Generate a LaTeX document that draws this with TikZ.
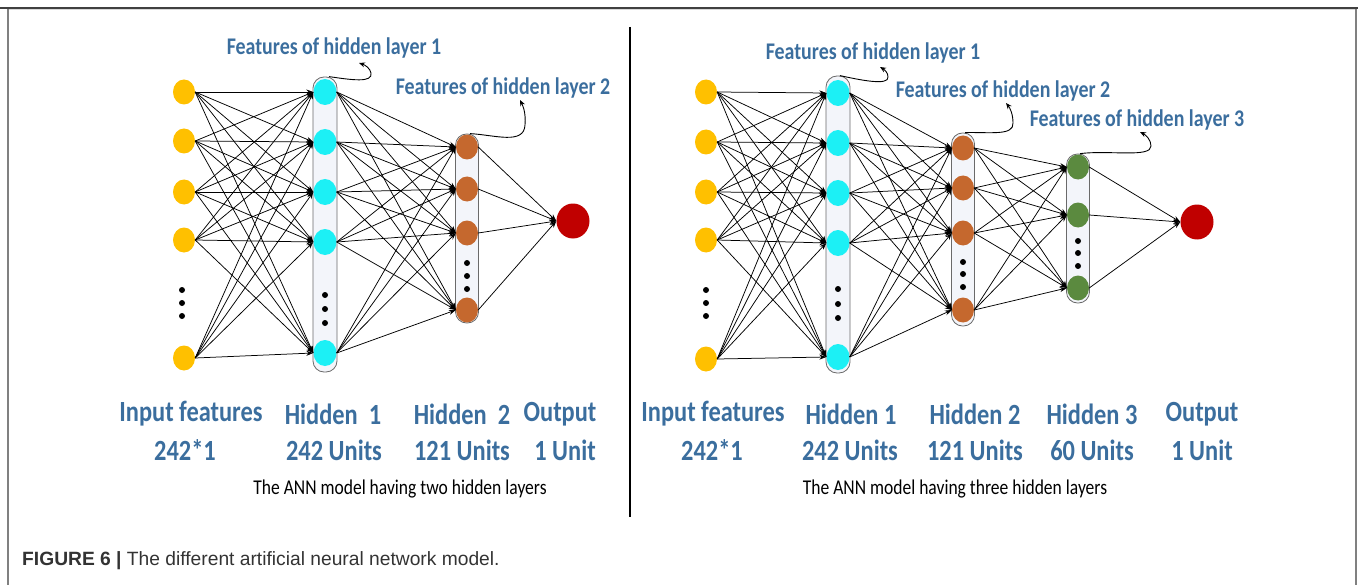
\documentclass[tikz,border=0pt]{standalone}
\usepackage{graphicx}
\usepackage{fontspec}
\setmainfont{Carlito}
\newfontfamily\capfont{Liberation Sans}
\usetikzlibrary{arrows.meta,shapes.geometric}

\definecolor{lblblue}{HTML}{3B6E9E}
\definecolor{inyellow}{HTML}{FFC000}
\definecolor{hcyan}{HTML}{1CF0F5}
\definecolor{hbrown}{HTML}{C5682E}
\definecolor{hgreen}{HTML}{5B8A3F}
\definecolor{outred}{HTML}{C00000}
\definecolor{capfill}{HTML}{F3F5FA}
\definecolor{capdraw}{HTML}{6A6A6A}
\definecolor{captext}{HTML}{333333}

% the figure lettering is a little narrow and tall
\newcommand\tallset[1]{\scalebox{1}[1.2]{#1}}

\tikzset{
  unit/.style={ellipse, inner sep=0pt, minimum width=22bp, minimum height=25bp},
  inunit/.style={unit, fill=inyellow},
  cyanunit/.style={unit, fill=hcyan, minimum width=23bp, minimum height=26bp},
  brownunit/.style={unit, fill=hbrown},
  greenunit/.style={unit, fill=hgreen},
  outunit/.style={unit, fill=outred, minimum width=33bp, minimum height=35bp},
  capsule/.style={draw=capdraw, fill=capfill, line width=0.8bp, rounded corners=11bp, inner sep=0pt},
  conn/.style={draw=black, line width=0.75bp, -{Stealth[length=7bp,width=5bp]}},
  curl/.style={draw=black, line width=0.9bp, -{Stealth[length=6bp,width=5bp]}},
  dotmark/.style={fill=black},
  layerlbl/.style={text=lblblue, font=\bfseries\fontsize{24.5}{28}\selectfont, inner sep=0pt},
  featlbl/.style={text=lblblue, font=\bfseries\fontsize{20}{24}\selectfont, inner sep=0pt},
  sublbl/.style={text=black, font=\fontsize{17.6}{21}\selectfont, inner sep=0pt},
  framedark/.style={draw=black!75, line width=1.5bp},
  framelight/.style={draw=black!50, line width=1.2bp},
}

\begin{document}
\begin{tikzpicture}[x=1bp, y=-1bp]
\useasboundingbox (0,0) rectangle (1358,585);

% page frame
\draw[framelight] (8,8) -- (8,585);
\draw[framelight] (1356,8) -- (1356,585);
\draw[framedark] (0,8) -- (1358,8);
\draw[black!15, line width=1bp] (9,10) -- (1355,10);

% divider between the two models
\draw[black, line width=1.5bp] (630,27) -- (630,517);

% ---------------- two hidden layers ----------------
\node[capsule, minimum width=24bp, minimum height=295bp] (Lcap1) at (325,224.5) {};
\node[capsule, minimum width=23bp, minimum height=189bp] (Lcap2) at (467,228.5) {};

\foreach \y [count=\i] in {92,141,192,240,358}
  \node[inunit] (Li\i) at (184,\y) {};
\foreach \y [count=\i] in {92,142,192,242,353}
  \node[cyanunit] (La\i) at (325,\y) {};
\foreach \y [count=\i] in {147,189,233,310}
  \node[brownunit] (Lb\i) at (467,\y) {};
\node[outunit] (Lo) at (573,221) {};

\foreach \y in {290,303,316} \fill[dotmark] (182,\y) circle (3bp);
\foreach \y in {295,309,323} \fill[dotmark] (325,\y) circle (3bp);
\foreach \y in {263,276,289} \fill[dotmark] (467,\y) circle (3bp);

\foreach \i in {1,...,5}
  \foreach \j in {1,...,5}
    \draw[conn] (Li\i.east) -- (La\j.west);
\foreach \i in {1,...,5}
  \foreach \j in {1,...,4}
    \draw[conn] (La\i.east) -- (Lb\j.west);
\foreach \i in {1,...,4}
  \draw[conn] (Lb\i.east) -- (Lo.west);

\node[featlbl] (Lf1) at (334,48) {\tallset{Features of hidden layer 1}};
\node[featlbl] (Lf2) at (503,88) {\tallset{Features of hidden layer 2}};
\coordinate (Lt1) at (359,63);
\coordinate (Lt2) at (520,100);
\draw[curl] ([xshift=4bp]Lcap1.north) .. controls (352,80) and (373,83) .. (371,73)
  .. controls (370,68) and (365,65) .. (Lt1);
\draw[curl] ([xshift=3bp]Lcap2.north) .. controls (495,135) and (524,145) .. (525,125)
  .. controls (526,113) and (523,106) .. (Lt2);

\node[layerlbl] (Ln1) at (191,414) {\tallset{Input features}};
\node[layerlbl] (Ln2) at (333,414) {\tallset{Hidden\ \ 1}};
\node[layerlbl] (Ln3) at (462,414) {\tallset{Hidden\ \ 2}};
\node[layerlbl] (Ln4) at (560,414) {\tallset{Output}};
\node[layerlbl] (Lu1) at (185,450) {\tallset{242*1}};
\node[layerlbl] (Lu2) at (334,450) {\tallset{242 Units}};
\node[layerlbl] (Lu3) at (462,450) {\tallset{121 Units}};
\node[layerlbl] (Lu4) at (565,450) {\tallset{1 Unit}};
\node[sublbl] (Lsub) at (400,489) {\tallset{The ANN model having two hidden layers}};

% ---------------- three hidden layers ----------------
\node[capsule, minimum width=24bp, minimum height=297bp] (Rcap1) at (838,224.5) {};
\node[capsule, minimum width=23bp, minimum height=193bp] (Rcap2) at (963,229.5) {};
\node[capsule, minimum width=23bp, minimum height=149bp] (Rcap3) at (1078,228.5) {};

\foreach \y [count=\i] in {92,142,192,240,359}
  \node[inunit] (Ri\i) at (706,\y) {};
\foreach \y [count=\i] in {93,143,193,243,357}
  \node[cyanunit] (Ra\i) at (838,\y) {};
\foreach \y [count=\i] in {148,188,233,310}
  \node[brownunit] (Rb\i) at (963,\y) {};
\foreach \y [count=\i] in {167,215,288}
  \node[greenunit] (Rc\i) at (1078,\y) {};
\node[outunit] (Ro) at (1197,222) {};

\foreach \y in {290,303,316} \fill[dotmark] (706,\y) circle (3bp);
\foreach \y in {289,304,318} \fill[dotmark] (838,\y) circle (3bp);
\foreach \y in {262,274,287} \fill[dotmark] (963,\y) circle (3bp);
\foreach \y in {241,253,266} \fill[dotmark] (1078,\y) circle (3bp);

\foreach \i in {1,...,5}
  \foreach \j in {1,...,5}
    \draw[conn] (Ri\i.east) -- (Ra\j.west);
\foreach \i in {1,...,5}
  \foreach \j in {1,...,4}
    \draw[conn] (Ra\i.east) -- (Rb\j.west);
\foreach \i in {1,...,4}
  \foreach \j in {1,...,3}
    \draw[conn] (Rb\i.east) -- (Rc\j.west);
\foreach \i in {1,...,3}
  \draw[conn] (Rc\i.east) -- (Ro.west);

\node[featlbl] (Rf1) at (873,53) {\tallset{Features of hidden layer 1}};
\node[featlbl] (Rf2) at (1003,91) {\tallset{Features of hidden layer 2}};
\node[featlbl] (Rf3) at (1137,120) {\tallset{Features of hidden layer 3}};
\coordinate (Rt1) at (880,67);
\coordinate (Rt2) at (1006,103);
\coordinate (Rt3) at (1140,132);
\draw[curl] ([xshift=2bp]Rcap1.north) .. controls (860,80) and (889,86) .. (888,77)
  .. controls (888,73) and (885,70) .. (Rt1);
\draw[curl] ([xshift=2bp]Rcap2.north) .. controls (990,132) and (1014,136) .. (1013,123)
  .. controls (1013,114) and (1010,108) .. (Rt2);
\draw[curl] ([xshift=2bp]Rcap3.north) .. controls (1110,150) and (1151,158) .. (1151,146)
  .. controls (1151,140) and (1146,135) .. (Rt3);

\node[layerlbl] (Rn1) at (713,414) {\tallset{Input features}};
\node[layerlbl] (Rn2) at (851,414) {\tallset{Hidden 1}};
\node[layerlbl] (Rn3) at (975,414) {\tallset{Hidden 2}};
\node[layerlbl] (Rn4) at (1092,414) {\tallset{Hidden 3}};
\node[layerlbl] (Rn5) at (1202,414) {\tallset{Output}};
\node[layerlbl] (Ru1) at (712,450) {\tallset{242*1}};
\node[layerlbl] (Ru2) at (850,450) {\tallset{242 Units}};
\node[layerlbl] (Ru3) at (975,450) {\tallset{121 Units}};
\node[layerlbl] (Ru4) at (1092,450) {\tallset{60 Units}};
\node[layerlbl] (Ru5) at (1202,450) {\tallset{1 Unit}};
\node[sublbl] (Rsub) at (955,489) {\tallset{The ANN model having three hidden layers}};

% figure caption
\node[anchor=west, inner sep=0pt, text=captext, font=\capfont\fontsize{19.3}{23}\selectfont] (cap) at (22,561)
  {\textbf{FIGURE 6 |} The different artificial neural network model.};
\end{tikzpicture}
\end{document}
